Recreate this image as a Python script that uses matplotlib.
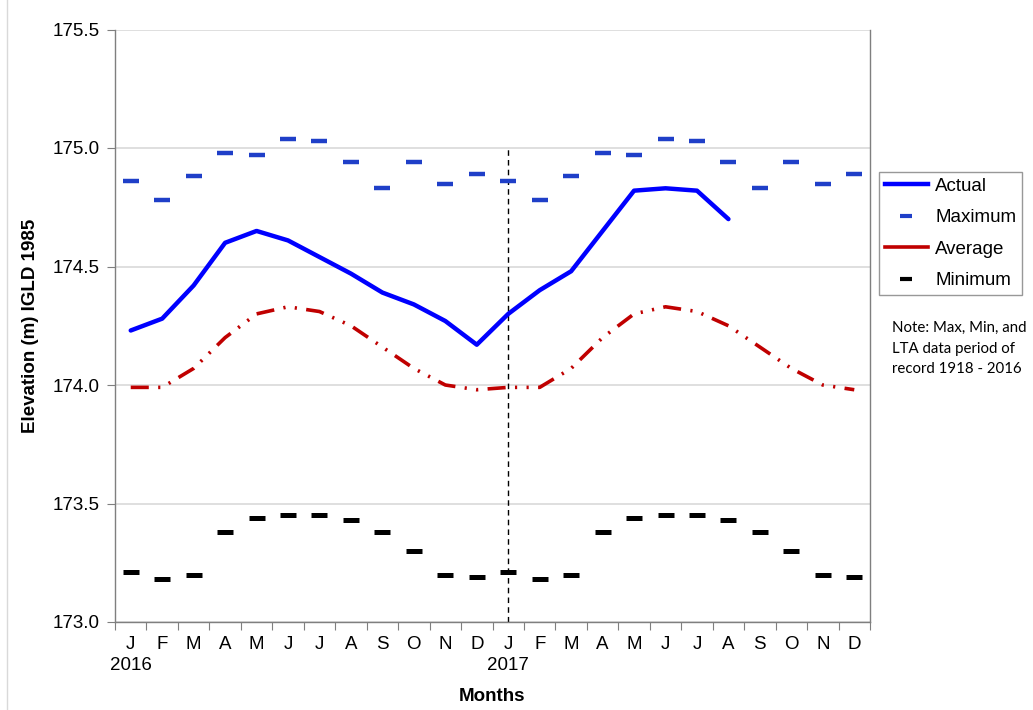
import matplotlib
matplotlib.use("Agg")
import matplotlib.pyplot as plt
import numpy as np
from matplotlib.lines import Line2D

# monthly values, Jan 2016 - Dec 2017
months = ["J", "F", "M", "A", "M", "J", "J", "A", "S", "O", "N", "D"] * 2
years = {0: "2016", 12: "2017"}

actual = [174.23, 174.28, 174.42, 174.60, 174.65, 174.61, 174.54, 174.47,
          174.39, 174.34, 174.27, 174.17,
          174.30, 174.40, 174.48, 174.65, 174.82, 174.83, 174.82, 174.70]
maximum = [174.86, 174.78, 174.88, 174.98, 174.97, 175.04, 175.03, 174.94,
           174.83, 174.94, 174.85, 174.89] * 2
average = [173.99, 173.99, 174.07, 174.20, 174.30, 174.33, 174.31, 174.25,
           174.16, 174.07, 174.00, 173.98] * 2
minimum = [173.21, 173.18, 173.20, 173.38, 173.44, 173.45, 173.45, 173.43,
           173.38, 173.30, 173.20, 173.19] * 2

plt.rcParams["font.family"] = ["Liberation Sans", "DejaVu Sans"]
fs = 13.5

fig = plt.figure(figsize=(10.33, 7.10), dpi=100)
ax = fig.add_axes([115 / 1033, 1 - 622 / 710, (870 - 115) / 1033, (622 - 29.5) / 710])

x = np.arange(len(months))
avg_dash = (0, (5, 2.6, 0.6, 2.6, 0.6, 2.6))

ax.plot(np.arange(len(actual)), actual, color="#0000FF", lw=3.2, zorder=4,
        solid_capstyle="round")
ax.plot(x, average, color="#C00000", lw=2.6, linestyle=avg_dash, zorder=3)
ax.plot(x, maximum, linestyle="none", marker="_", markersize=12,
        markeredgewidth=3.2, color="#1f3fc8", zorder=3)
ax.plot(x, minimum, linestyle="none", marker="_", markersize=12,
        markeredgewidth=3.6, color="black", zorder=3)

# year separator
ax.vlines(12, 173.0, 175.0, colors="black", linestyles=(0, (4, 3)), lw=1.0, zorder=2)

ax.set_xlim(-0.5, len(months) - 0.5)
ax.set_ylim(173.0, 175.5)
ax.set_yticks(np.arange(173.0, 175.51, 0.5))
ax.set_yticklabels([f"{v:.1f}" for v in np.arange(173.0, 175.51, 0.5)], fontsize=fs)
ax.yaxis.grid(True, color="#d9d9d9", lw=1.2)
ax.set_axisbelow(True)

ax.set_xticks(np.arange(-0.5, len(months), 1.0))
ax.set_xticklabels([])
ax.set_xticks(x, minor=True)
ax.set_xticklabels([m + ("\n" + years[i] if i in years else "") for i, m in enumerate(months)],
                   minor=True, fontsize=fs, va="top", linespacing=1.35)
ax.tick_params(axis="x", which="major", length=6, color="#7f7f7f", direction="out")
ax.tick_params(axis="x", which="minor", length=0, pad=10)
ax.tick_params(axis="y", length=6, color="#7f7f7f", pad=5)

for s in ["left", "bottom", "right"]:
    ax.spines[s].set_color("#7f7f7f")
    ax.spines[s].set_linewidth(1.0)
ax.spines["top"].set_visible(False)

ax.set_ylabel("Elevation (m) IGLD 1985", fontsize=fs, fontweight="bold", labelpad=10)
ax.set_xlabel("Months", fontsize=fs, fontweight="bold", labelpad=10)

handles = [
    Line2D([], [], color="#0000FF", lw=3.2),
    Line2D([], [], linestyle="none", marker="_", markersize=9, markeredgewidth=3,
           color="#1f3fc8"),
    Line2D([], [], color="#C00000", lw=2.6),
    Line2D([], [], linestyle="none", marker="_", markersize=9, markeredgewidth=3,
           color="black"),
]
leg = fig.legend(handles, ["Actual", "Maximum", "Average", "Minimum"],
                 loc="upper left", bbox_to_anchor=(879 / 1033, 1 - 172 / 710),
                 fontsize=fs, frameon=True, fancybox=False, handlelength=2.3,
                 handletextpad=0.4, borderpad=0.3, labelspacing=0.77,
                 borderaxespad=0)
leg.get_frame().set_edgecolor("#7f7f7f")
leg.get_frame().set_linewidth(1.0)

fig.text(892 / 1033, 1 - 321 / 710, "Note: Max, Min, and\nLTA data period of\nrecord 1918 - 2016",
         fontsize=10.8, family=["Lato", "DejaVu Sans"], va="top", ha="left",
         linespacing=1.6)

# chart area border
fig.add_artist(Line2D([7 / 1033, 7 / 1033], [0, 1], color="#d9d9d9", lw=1.0))

fig.savefig("out.png", dpi=100)
